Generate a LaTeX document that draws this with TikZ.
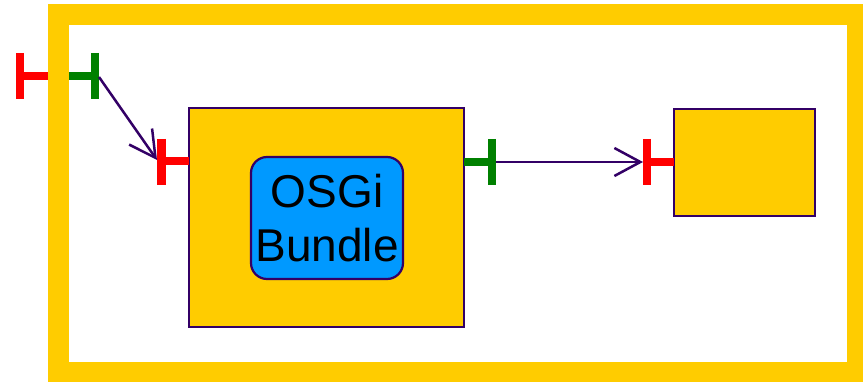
\documentclass[tikz,border=0pt]{standalone}
\usepackage{fontspec}
\setmainfont{Liberation Sans}
\usetikzlibrary{arrows.meta}
\definecolor{frameyellow}{HTML}{FFCC00}
\definecolor{portred}{HTML}{FF0000}
\definecolor{portgreen}{HTML}{008000}
\definecolor{edgepurple}{HTML}{330066}
\definecolor{bundleblue}{HTML}{0099FF}
\begin{document}
\begin{tikzpicture}[x=1pt,y=-1pt,
  compbox/.style={draw=edgepurple, line width=2.2pt, fill=frameyellow, inner sep=0pt},
  bundlebox/.style={draw=edgepurple, line width=2.2pt, fill=bundleblue, rounded corners=16pt,
    inner sep=0pt, align=center, font=\fontsize{46}{55}\selectfont},
  stem/.style={line width=8pt},
  bar/.style={line width=8.5pt},
  conn/.style={draw=edgepurple, line width=2.5pt, -{Straight Barb[length=26pt,width=28pt,line width=2.5pt]}}
]
\useasboundingbox (0,0) rectangle (863,382);
% outer frame
\draw[frameyellow, line width=21pt] (58.5,15) rectangle (857.5,372.5);
% boxes
\node[compbox, minimum width=275pt, minimum height=219pt] (main) at (326.5,217.5) {};
\node[compbox, minimum width=141pt, minimum height=107pt] (right) at (744.5,162.5) {};
\node[bundlebox, minimum width=152pt, minimum height=122pt] (bundle) at (327,218) {OSGi\\[-1pt]Bundle};
% ports: external left red
\draw[portred, stem] (20,76) -- (48,76);
\draw[portred, bar] (20,53) -- (20,99);
% external green
\draw[portgreen, stem] (69,76) -- (95,76);
\draw[portgreen, bar] (95,53) -- (95,99);
\coordinate (g1) at (99,77);
% main box left red
\draw[portred, stem] (161.5,161) -- (189,161);
\draw[portred, bar] (161.5,139) -- (161.5,185);
\coordinate (r2) at (157,160);
% main box right green
\draw[portgreen, stem] (464,162) -- (492,162);
\draw[portgreen, bar] (492,139) -- (492,185);
\coordinate (g2) at (496,162);
% right box red
\draw[portred, stem] (647,162) -- (674,162);
\draw[portred, bar] (647,139) -- (647,185);
\coordinate (r3) at (643,162);
% connectors
\draw[conn] (g1) -- (r2);
\draw[conn] (g2) -- (r3);
\end{tikzpicture}
\end{document}
